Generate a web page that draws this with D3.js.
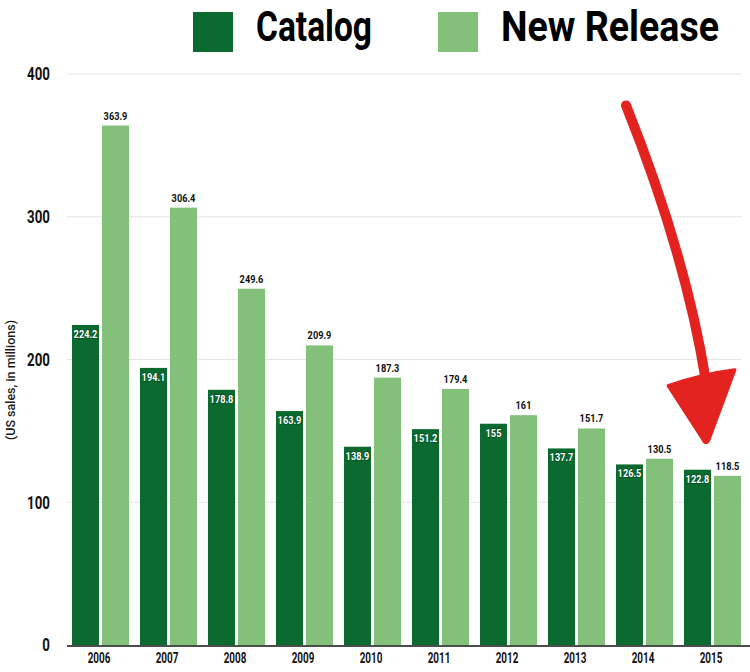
<!DOCTYPE html>
<html>
<head>
<meta charset="utf-8">
<script src="https://cdn.jsdelivr.net/npm/d3@7"></script>
<style>
  body { margin: 0; background: #fff; }
  svg { display: block; }
  text { font-family: Roboto, "Liberation Sans", sans-serif; font-weight: bold; }
</style>
</head>
<body>
<div id="chart"></div>
<script>
const years = ['2006', '2007', '2008', '2009', '2010', '2011', '2012', '2013', '2014', '2015'];
const catalog = [224.2, 194.1, 178.8, 163.9, 138.9, 151.2, 155, 137.7, 126.5, 122.8];
const newRelease = [363.9, 306.4, 249.6, 209.9, 187.3, 179.4, 161, 151.7, 130.5, 118.5];
const yTicks = [0, 100, 200, 300, 400];
const seriesNames = ['Catalog', 'New Release'];

const W = 750, H = 672;
const margin = { top: 74, right: 3, bottom: 27, left: 67 };
const colors = ['#0b6a30', '#83c07a'];

const svg = d3.select('#chart').append('svg')
    .attr('width', W)
    .attr('height', H);

// squeeze text horizontally to mimic a condensed face
const squeeze = (px, py, sx) => `translate(${px},${py}) scale(${sx},1)`;

const x = d3.scaleBand()
    .domain(years)
    .range([margin.left, W - margin.right]);

const xInner = d3.scaleBand()
    .domain(seriesNames)
    .range([5, x.bandwidth() - 6])
    .paddingInner(0.1);

const y = d3.scaleLinear()
    .domain([0, 400])
    .range([H - margin.bottom, margin.top]);

// gridlines
svg.append('g').attr('class', 'grid')
    .selectAll('line')
    .data(yTicks.filter(d => d > 0))
    .enter().append('line')
    .attr('x1', margin.left)
    .attr('x2', W - 8)
    .attr('y1', d => y(d))
    .attr('y2', d => y(d))
    .style('stroke', '#e4e4e4')
    .style('stroke-width', 1);

// y tick labels
svg.append('g').attr('class', 'y-labels')
    .selectAll('text')
    .data(yTicks)
    .enter().append('text')
    .attr('transform', d => squeeze(50, y(d), 0.74))
    .attr('dy', '0.36em')
    .style('text-anchor', 'end')
    .style('font-size', '18px')
    .style('fill', '#111')
    .text(d => d);

// y axis title
svg.append('text')
    .attr('transform', 'translate(10,380) rotate(-90)')
    .attr('dy', '0.35em')
    .attr('textLength', 120)
    .attr('lengthAdjust', 'spacingAndGlyphs')
    .style('text-anchor', 'middle')
    .style('font-size', '13.5px')
    .style('font-weight', 500)
    .style('fill', '#1a1a1a')
    .text('(US sales, in millions)');

const rows = years.map((yr, i) => ({ year: yr, values: [catalog[i], newRelease[i]] }));

const groups = svg.append('g').attr('class', 'bars')
    .selectAll('g')
    .data(rows)
    .enter().append('g')
    .attr('transform', d => `translate(${x(d.year)},0)`);

groups.selectAll('rect')
    .data(d => d.values.map((v, k) => ({ name: seriesNames[k], k, v })))
    .enter().append('rect')
    .attr('x', d => xInner(d.name))
    .attr('width', xInner.bandwidth())
    .attr('y', d => y(d.v))
    .attr('height', d => y(0) - y(d.v))
    .style('fill', d => colors[d.k]);

// catalog value labels (inside, white)
groups.append('text')
    .attr('transform', d => squeeze(xInner('Catalog') + xInner.bandwidth() / 2, y(d.values[0]) + 13, 0.8))
    .style('text-anchor', 'middle')
    .style('font-size', '11.5px')
    .style('fill', '#fff')
    .style('paint-order', 'stroke')
    .style('stroke', 'rgba(0,35,10,0.45)')
    .style('stroke-width', 1.4)
    .text(d => d.values[0]);

// new release value labels (above, black)
groups.append('text')
    .attr('transform', d => squeeze(xInner('New Release') + xInner.bandwidth() / 2, y(d.values[1]) - 6, 0.8))
    .style('text-anchor', 'middle')
    .style('font-size', '11.5px')
    .style('fill', '#111')
    .text(d => d.values[1]);

// x axis baseline
svg.append('line')
    .attr('x1', margin.left)
    .attr('x2', W)
    .attr('y1', y(0) + 1)
    .attr('y2', y(0) + 1)
    .style('stroke', '#111')
    .style('stroke-width', 1.5);

// year labels
svg.append('g').attr('class', 'x-labels')
    .selectAll('text')
    .data(years)
    .enter().append('text')
    .attr('transform', d => squeeze(x(d) + x.bandwidth() / 2 - 2, y(0) + 18, 0.66))
    .style('text-anchor', 'middle')
    .style('font-size', '15px')
    .style('fill', '#111')
    .text(d => d);

// legend
const legend = svg.append('g').attr('class', 'legend');
const legendX = [193, 438];
const legendTextW = [116, 218];
seriesNames.forEach((name, k) => {
    legend.append('rect')
        .attr('x', legendX[k])
        .attr('y', 12)
        .attr('width', 40)
        .attr('height', 40)
        .style('fill', colors[k]);
    legend.append('text')
        .attr('x', legendX[k] + 63)
        .attr('y', 41)
        .attr('textLength', legendTextW[k])
        .attr('lengthAdjust', 'spacingAndGlyphs')
        .style('font-size', '43px')
        .style('fill', '#000')
        .text(name);
});

// red annotation arrow, anchored to the last two years
const sx = x('2014') + 15, sy = y(378);
const tx = x('2015') + 27, ty = y(141);
const neckY = ty - 68;
const arrow = svg.append('g').attr('class', 'arrow');
arrow.append('path')
    .attr('d', `M${sx},${sy} Q${sx + 60},${sy + 150} ${tx},${neckY + 6}`)
    .style('fill', 'none')
    .style('stroke', '#e2231f')
    .style('stroke-width', 10)
    .style('stroke-linecap', 'round');
arrow.append('path')
    .attr('d', `M${tx - 38},${neckY + 10} Q${tx - 4},${neckY - 2} ${tx + 29},${neckY - 6} L${tx + 3},${ty - 4} Q${tx},${ty + 2} ${tx - 3},${ty - 4} Z`)
    .style('fill', '#e2231f')
    .style('stroke', '#e2231f')
    .style('stroke-width', 3)
    .style('stroke-linejoin', 'round');
</script>
</body>
</html>
